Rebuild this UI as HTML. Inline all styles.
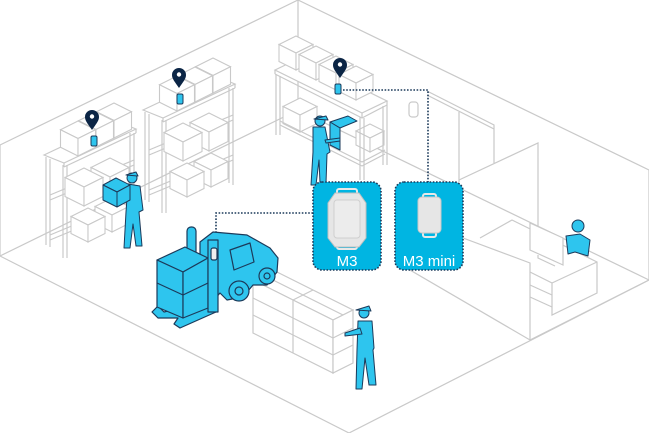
<!DOCTYPE html>
<html><head><meta charset="utf-8"><style>
html,body{margin:0;padding:0;background:#fff;}
svg{display:block;}
text{font-family:"Liberation Sans",sans-serif;}
</style></head><body>
<svg width="649" height="433" viewBox="0 0 649 433" xmlns="http://www.w3.org/2000/svg">
<defs>
<g id="cube">
<polygon points="0,0 10,5 0,10 -10,5" fill="#fff" stroke="#c9c9c9" stroke-width="1.1" vector-effect="non-scaling-stroke"/>
<polygon points="-10,5 0,10 0,20 -10,15" fill="#fff" stroke="#c9c9c9" stroke-width="1.1" vector-effect="non-scaling-stroke"/>
<polygon points="0,10 10,5 10,15 0,20" fill="#fff" stroke="#c9c9c9" stroke-width="1.1" vector-effect="non-scaling-stroke"/>
</g>
<g id="pin">
<path d="M0,12 C-4,6 -7,3 -7,-1 A7,7 0 1 1 7,-1 C7,3 4,6 0,12 Z" fill="#0b2545"/>
<circle cx="0" cy="-1.5" r="2.2" fill="#fff"/>
</g>
<g id="tag">
<rect x="-3" y="-5" width="6" height="10" rx="1.5" fill="#2ec5ee" stroke="#1c3a5a" stroke-width="1"/>
</g>
</defs>

<g fill="none" stroke="#c9c9c9" stroke-width="1.2">
<polyline points="0,145 298,0 649,170 649,280"/>
<line x1="0" y1="145" x2="0" y2="256"/>
<line x1="298" y1="0" x2="298" y2="110"/>
<line x1="0" y1="256" x2="349" y2="433"/>
<line x1="349" y1="433" x2="649" y2="280"/>
<line x1="0" y1="256" x2="298" y2="110"/>
<line x1="298" y1="110" x2="649" y2="280"/>
<polyline points="427,91 494,125 494,163"/>
<polyline points="427,95 494,129"/>
<line x1="459" y1="112" x2="459" y2="182"/>
<polyline points="459,180 538,143 538,227"/>
<polyline points="410,255 410,270 530,340 649,280"/>
<polyline points="410,257 455,235 530,263 530,340"/>
<polyline points="480,238 512,220 597,262 597,293 552,315 552,283 530,272"/>
<line x1="552" y1="283" x2="597" y2="262"/>
<line x1="530" y1="285" x2="552" y2="295"/>
<line x1="530" y1="297" x2="552" y2="307"/>
<polygon points="530,223 563,238 563,265 530,250" fill="#fff"/>
<polyline points="538,255 538,258 555,266"/>
<rect x="409" y="102" width="9" height="15" rx="3"/>
</g>

<g id="shelf1">
<g fill="none" stroke="#c9c9c9" stroke-width="1.2">
<polygon points="44,155 116,121 136,129 64,163" fill="#fff"/>
<line x1="64" y1="163" x2="64" y2="167"/><line x1="136" y1="129" x2="136" y2="133"/>
<line x1="64" y1="167" x2="136" y2="133"/>
<line x1="46" y1="157" x2="46" y2="245"/><line x1="50" y1="159" x2="50" y2="247"/>
<line x1="63" y1="165" x2="63" y2="258"/><line x1="67" y1="165" x2="67" y2="258"/>
<line x1="130" y1="133" x2="130" y2="228"/><line x1="134" y1="133" x2="134" y2="230"/>
<line x1="50" y1="195" x2="134" y2="160"/><line x1="50" y1="200" x2="134" y2="165"/>
<line x1="50" y1="235" x2="134" y2="200"/><line x1="50" y1="240" x2="134" y2="205"/>
</g>
<use href="#cube" transform="translate(110,158) scale(1.9)"/>
<use href="#cube" transform="translate(84,168) scale(1.9)"/>
<use href="#cube" transform="translate(112,198) scale(1.7)"/>
<use href="#cube" transform="translate(88,208) scale(1.7)"/>
<use href="#cube" transform="translate(114,103) scale(1.75)"/>
<use href="#cube" transform="translate(96,112) scale(1.75)"/>
<use href="#cube" transform="translate(78,121) scale(1.75)"/>
</g>
<use href="#shelf1" transform="translate(99,-45)"/>

<g fill="none" stroke="#c9c9c9" stroke-width="1.2">
<polygon points="275,70 300,58 387,101 362,113" fill="#fff"/>
<line x1="275" y1="70" x2="275" y2="74"/><line x1="362" y1="113" x2="362" y2="118"/><line x1="387" y1="101" x2="387" y2="105"/>
<polyline points="275,74 362,118 387,105"/>
</g>
<use href="#cube" transform="translate(300,98) scale(1.7)"/>
<use href="#cube" transform="translate(370,124) scale(1.4)"/>
<use href="#cube" transform="translate(296,36) scale(1.7)"/>
<use href="#cube" transform="translate(316,46) scale(1.7)"/>
<use href="#cube" transform="translate(336,56) scale(1.7)"/>
<use href="#cube" transform="translate(356,66) scale(1.7)"/>
<g fill="none" stroke="#c9c9c9" stroke-width="1.2">
<line x1="276" y1="74" x2="276" y2="135"/><line x1="280" y1="76" x2="280" y2="135"/>
<line x1="360" y1="117" x2="360" y2="180"/><line x1="364" y1="118" x2="364" y2="180"/>
<line x1="383" y1="106" x2="383" y2="165"/><line x1="387" y1="105" x2="387" y2="165"/>
<polyline points="280,121 362,162 385,150"/>
<polyline points="280,125 362,166 385,154"/>
</g>

<use href="#pin" transform="translate(92,118)"/>
<use href="#tag" transform="translate(94,141)"/>
<use href="#pin" transform="translate(179,76)"/>
<use href="#tag" transform="translate(180,99)"/>
<use href="#pin" transform="translate(340,66)"/>
<use href="#tag" transform="translate(338,89)"/>

<g fill="none" stroke="#1c3a5a" stroke-width="1.6" stroke-dasharray="1.6,1.6">
<polyline points="343,90 428,90 428,182"/>
<polyline points="313,213 216,213 216,232"/>
</g>

<g fill="#fff" stroke="#c9c9c9" stroke-width="1.2">
<polygon points="273,270 353,310 333,320 253,280"/>
<polygon points="253,280 333,320 333,373 253,333"/>
<polygon points="333,320 353,310 353,363 333,373"/>
<g fill="none">
<line x1="293" y1="300" x2="293" y2="353"/>
<line x1="263" y1="275" x2="343" y2="315"/>
<line x1="293" y1="300" x2="313" y2="290"/>
<polyline points="253,298 333,338 353,328"/>
<polyline points="253,315 333,355 353,345"/>
</g>
</g>

<g stroke="#1c3a5a" stroke-width="1.2" fill="#2ec5ee" stroke-linejoin="round">
<polygon points="152,312 158,306 164,312 210,300 216,312 180,328 174,324 178,318 158,318"/>
<rect x="187" y="227" width="9" height="30" rx="4"/>
<polygon points="200,242 213,232 247,235 270,248 278,258 277,272 267,285 253,285 243,297 227,300 220,293 214,300 200,290"/>
<circle cx="239" cy="291" r="10"/><circle cx="239" cy="291" r="4"/>
<circle cx="267" cy="276" r="8"/><circle cx="267" cy="276" r="3"/>
<polygon points="230,250 250,243 254,262 234,270" fill="#2ec5ee"/>
<polygon points="157,260 185,247 208,258 183,272"/>
<polygon points="157,260 183,272 183,318 157,307"/>
<polygon points="183,272 208,258 208,308 183,318"/>
<line x1="157" y1="283" x2="183" y2="295"/><line x1="183" y1="295" x2="208" y2="283"/>
<rect x="208" y="240" width="10" height="72"/>
<rect x="211" y="248" width="6" height="12" rx="2" fill="#eee"/>
</g>

<g stroke="#1c3a5a" stroke-width="1" fill="#2ec5ee" stroke-linejoin="round">
<path d="M128,184 L140,186 L143,210 L139,212 L142,246 L136,246 L133,224 L130,248 L124,248 L126,212 Z"/>
<circle cx="132" cy="178" r="5"/><path d="M126,175 L136,172 L138,176 Z"/>
<polygon points="103,185 116,178 130,185 117,192"/>
<polygon points="103,185 117,192 117,207 103,200"/>
<polygon points="117,192 130,185 130,200 117,207"/>
<path d="M313,127 L325,127 L330,152 L327,154 L326,183 L320,183 L319,160 L316,185 L311,185 L313,152 Z"/>
<circle cx="320" cy="121" r="5"/><path d="M314,119 L326,116 L328,120 Z"/>
<polygon points="330,122 348,116 357,121 340,128"/>
<polygon points="330,122 340,128 340,150 330,145"/>
<path d="M325,140 L340,138 L340,141 L326,143 Z"/>
<path d="M358,321 L372,321 L374,348 L373,350 L376,385 L369,385 L365,358 L362,389 L356,389 L357,350 Z"/>
<circle cx="364" cy="313" r="5"/><path d="M356,310 L369,306 L371,311 Z"/>
<path d="M360,328 L345,333 L345,336 L362,334 Z"/>
<path d="M566,236 L580,234 L590,240 L588,256 L575,252 L568,254 Z"/>
<circle cx="578" cy="226" r="6"/>
</g>

<g stroke="#1c3a5a" stroke-width="1.6" stroke-dasharray="1.6,1.6">
<rect x="313" y="182" width="68" height="88" rx="9" fill="#00b5e2"/>
<rect x="395" y="182" width="68" height="88" rx="9" fill="#00b5e2"/>
</g>
<rect x="337" y="189" width="20" height="6" rx="2" fill="none" stroke="#e8e8e8" stroke-width="2"/>
<rect x="337" y="243" width="20" height="6" rx="2" fill="none" stroke="#e8e8e8" stroke-width="2"/>
<polygon points="335,193 359,193 366,203 366,238 359,247 335,247 328,238 328,203" fill="#e6e6e6" stroke="#c0c0c0"/>
<rect x="334" y="200" width="26" height="38" rx="3" fill="#ececec" stroke="#cfcfcf"/>
<rect x="423" y="194" width="13" height="5" rx="2" fill="none" stroke="#e8e8e8" stroke-width="2"/>
<rect x="423" y="232" width="13" height="5" rx="2" fill="none" stroke="#e8e8e8" stroke-width="2"/>
<rect x="418" y="197" width="23" height="36" rx="4" fill="#e6e6e6" stroke="#c8c8c8"/>
<text x="347" y="266" font-size="15" fill="#fff" text-anchor="middle">M3</text>
<text x="429" y="266" font-size="15" fill="#fff" text-anchor="middle">M3 mini</text>
</svg>
</body></html>
